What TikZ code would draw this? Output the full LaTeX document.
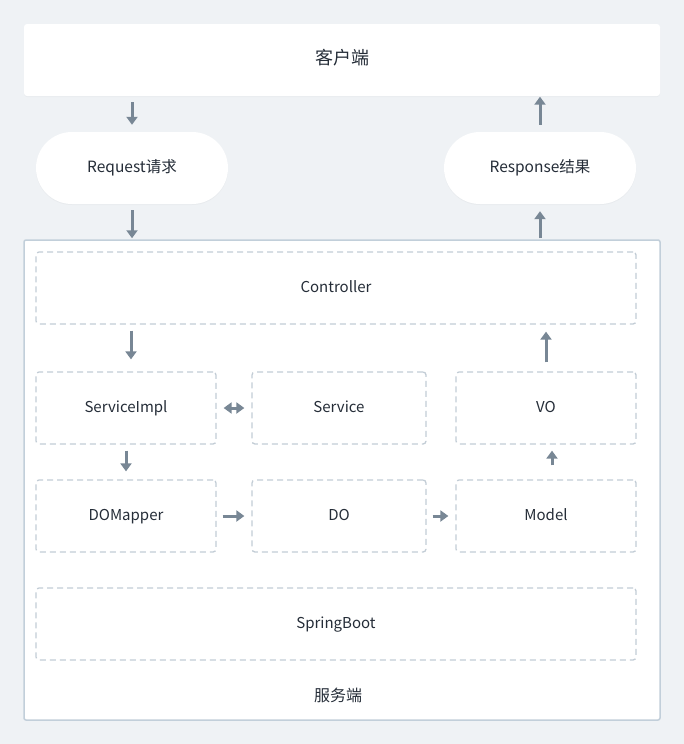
\documentclass[tikz,border=0pt]{standalone}
\usepackage{fontspec}
\setmainfont{Noto Sans CJK SC}
\usetikzlibrary{arrows.meta,shadows}

\definecolor{bgcol}{HTML}{EFF2F5}
\definecolor{dashcol}{HTML}{C3CDD6}
\definecolor{framecol}{HTML}{C2CFDA}
\definecolor{arrowcol}{HTML}{788795}
\definecolor{textcol}{HTML}{252D38}

\tikzset{
  card/.style={fill=white,rounded corners=3pt,text=textcol,
    text height=1.75ex,text depth=0pt,
    drop shadow={shadow xshift=0pt,shadow yshift=-1pt,opacity=0.06}},
  pill/.style={card,rounded corners=35.9pt,minimum width=192,minimum height=72,
    font=\fontsize{15.5}{18}\selectfont},
  layer/.style={draw=dashcol,line width=1.3pt,dash pattern=on 6pt off 4pt,
    rounded corners=3pt,fill=white,text=textcol,minimum height=72,
    text height=1.75ex,text depth=0pt,
    font=\fontsize{15}{18}\selectfont},
  flow/.style={draw=arrowcol,line width=3pt,>={Triangle[length=8pt,width=11pt]}},
}

\begin{document}
\begin{tikzpicture}[x=1pt,y=-1pt]
\useasboundingbox[fill=bgcol] (0,0) rectangle (684,744);
% client side
\node[card,minimum width=636,minimum height=72,font=\fontsize{18}{20}\selectfont] (client) at (342,60) {客户端};
\node[pill] (request) at (132,168) {Request请求};
\node[pill] (response) at (540,168) {Response结果};
% server frame
\node[draw=framecol,line width=1.5pt,fill=white,rounded corners=2pt,minimum width=636,minimum height=480] (server) at (342,480) {};
\node[text=textcol,font=\fontsize{16}{18}\selectfont] (serverlabel) at (338,695) {服务端};
% layers
\node[layer,minimum width=600] (controller) at (336,288) {Controller};
\node[layer,minimum width=180] (impl) at (126,408) {ServiceImpl};
\node[layer,minimum width=174] (service) at (339,408) {Service};
\node[layer,minimum width=180] (vo) at (546,408) {VO};
\node[layer,minimum width=180] (mapper) at (126,516) {DOMapper};
\node[layer,minimum width=174] (do) at (339,516) {DO};
\node[layer,minimum width=180] (model) at (546,516) {Model};
\node[layer,minimum width=600] (spring) at (336,624) {SpringBoot};
% request / response flow
\draw[flow,->,shorten <=6pt,shorten >=7pt] (client.south -| request.north) -- (request.north);
\draw[flow,->,shorten <=6pt,shorten >=1pt] (request.south) -- (request.south |- server.north);
\draw[flow,->,shorten <=1pt,shorten >=7pt] (server.north -| response.south) -- (response.south);
\draw[flow,->,shorten <=7pt,shorten >=0.5pt] (response.north) -- (response.north |- client.south);
% inside the server
\draw[flow,->,shorten <=6pt,shorten >=12pt] ([xshift=5pt]controller.south -| impl.north) -- ([xshift=5pt]impl.north);
\draw[flow,->,shorten <=9pt,shorten >=7pt] (vo.north) -- (vo.north |- controller.south);
\draw[flow,<->,shorten <=7pt,shorten >=7pt] (impl.east) -- (service.west);
\draw[flow,->,shorten <=6pt,shorten >=8pt] (impl.south) -- (mapper.north);
\draw[flow,->,shorten <=6pt,shorten >=7pt] (mapper.east) -- (do.west);
\draw[flow,->,shorten <=6pt,shorten >=7pt] (do.east) -- (model.west);
\draw[flow,->,shorten <=14pt,shorten >=6pt] ([xshift=6pt]model.north) -- ([xshift=6pt]vo.south);
\end{tikzpicture}
\end{document}
